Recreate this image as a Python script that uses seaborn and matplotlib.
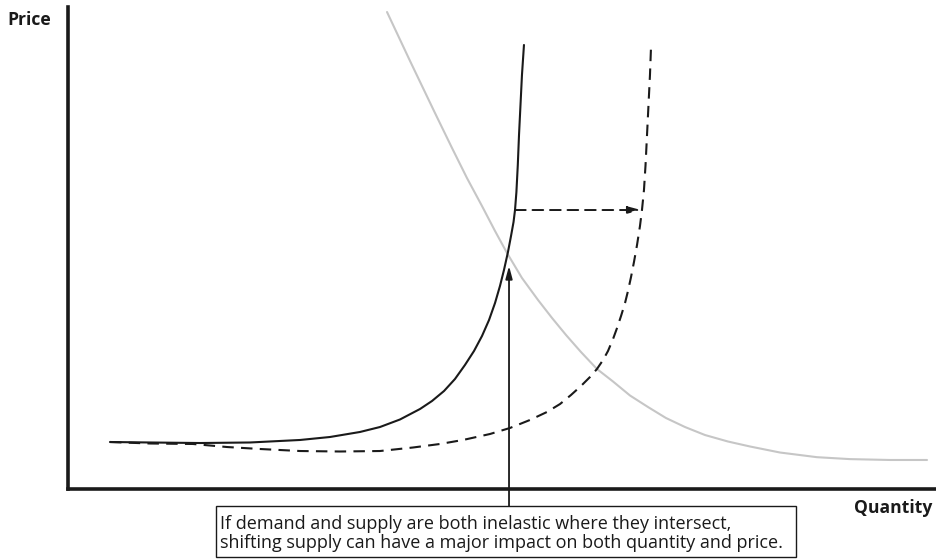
import matplotlib
matplotlib.use("Agg")
import matplotlib.pyplot as plt
from matplotlib.patches import Rectangle
import pandas as pd
import seaborn as sns

# Original supply curve (quantity, price)
supply_q = [4.83, 9.44, 15.19, 20.94, 26.70, 30.15, 33.60, 35.90, 38.20, 40.51,
            41.89, 43.27, 44.53, 45.68, 46.72, 47.64, 48.45, 49.14, 49.71, 50.17,
            50.63, 50.98, 51.27, 51.44, 51.60, 51.76, 51.90, 52.07, 52.24, 52.47]
supply_p = [9.75, 9.65, 9.54, 9.65, 10.17, 10.79, 11.83, 12.86, 14.42, 16.60,
            18.26, 20.33, 22.82, 25.73, 28.63, 31.74, 35.06, 38.59, 42.12, 45.44,
            49.17, 52.49, 55.39, 57.88, 61.60, 67.22, 73.44, 79.67, 85.89, 92.12]

# Shifted supply curve
shifted_q = [4.83, 9.44, 14.38, 18.30, 22.09, 26.70, 31.30, 35.90, 39.70, 42.81,
             45.45, 48.56, 50.86, 53.16, 55.12, 56.62, 57.88, 59.03, 60.07, 60.87,
             61.57, 62.14, 62.72, 63.18, 63.64, 64.10, 64.44, 64.79, 65.13, 65.48,
             65.82, 66.05, 66.28, 66.46, 66.63, 66.80, 66.97, 67.09]
shifted_p = [9.75, 9.44, 9.34, 8.71, 8.30, 7.88, 7.78, 7.88, 8.61, 9.34,
             10.17, 11.41, 12.66, 14.32, 15.98, 17.63, 19.50, 21.37, 23.24, 24.90,
             26.76, 28.63, 31.12, 33.40, 35.89, 38.59, 41.08, 43.98, 47.10, 50.62,
             54.56, 57.88, 62.03, 67.22, 73.44, 79.67, 85.89, 91.70]

# Demand curve
demand_q = [36.71, 39.36, 42.23, 44.19, 45.91, 47.64, 49.14, 50.52, 52.24, 54.09,
            55.70, 57.31, 59.03, 60.87, 62.72, 64.67, 66.74, 68.81, 71.00, 73.30,
            75.95, 78.48, 81.93, 86.19, 89.99, 94.59, 98.85]
demand_p = [98.96, 88.80, 78.01, 70.75, 64.52, 58.71, 53.53, 48.96, 43.78, 39.21,
            35.48, 31.95, 28.42, 24.90, 22.30, 19.40, 17.01, 14.73, 12.86, 11.20,
            9.85, 8.82, 7.57, 6.60, 6.20, 6.02, 6.02]

# Supply shift arrow and intersection pointer
shift_price = 57.88
shift_from_q, shift_to_q = 51.44, 65.95
pointer_q = 50.75
pointer_from_p, pointer_to_p = -3.5, 46.3

note_lines = [
    "If demand and supply are both inelastic where they intersect,",
    "shifting supply can have a major impact on both quantity and price.",
]
x_label = "Quantity"
y_label = "Price"

sns.set_style("white")
plt.rcParams["font.family"] = ["Open Sans", "DejaVu Sans"]

ink = "#1a1a1a"
dash = (0, (5.5, 3.5))

fig = plt.figure(figsize=(9.37, 5.59), dpi=100)
ax = fig.add_axes([68 / 937, 70 / 559, 869 / 937, 482 / 559])

supply = pd.DataFrame({"q": supply_q, "p": supply_p})
shifted = pd.DataFrame({"q": shifted_q, "p": shifted_p})
demand = pd.DataFrame({"q": demand_q, "p": demand_p})

sns.lineplot(data=demand, x="q", y="p", sort=False, estimator=None, ax=ax,
             color="#c6c6c6", linewidth=1.5)
sns.lineplot(data=shifted, x="q", y="p", sort=False, estimator=None, ax=ax,
             color=ink, linewidth=1.5, linestyle=dash)
sns.lineplot(data=supply, x="q", y="p", sort=False, estimator=None, ax=ax,
             color=ink, linewidth=1.5)

head = "-|>,head_length=0.75,head_width=0.2"
ax.annotate("", xy=(shift_to_q, shift_price), xytext=(shift_from_q, shift_price),
            arrowprops=dict(arrowstyle=head, color=ink, lw=1.4, linestyle=dash,
                            shrinkA=0, shrinkB=0))
ax.annotate("", xy=(pointer_q, pointer_to_p), xytext=(pointer_q, pointer_from_p),
            annotation_clip=False,
            arrowprops=dict(arrowstyle=head, color=ink, lw=1.3,
                            shrinkA=0, shrinkB=0))

ax.set_xlim(0, 100)
ax.set_ylim(0, 100)
ax.set_xticks([])
ax.set_yticks([])
ax.set_xlabel("")
ax.set_ylabel("")
for side in ("top", "right"):
    ax.spines[side].set_visible(False)
for side in ("left", "bottom"):
    ax.spines[side].set_linewidth(2.6)
    ax.spines[side].set_color(ink)

fig.text(7 / 937, 1 - 20 / 559, y_label, fontsize=12.6, fontweight="bold",
         ha="left", va="center", color=ink)
fig.text(932 / 937, 1 - 508 / 559, x_label, fontsize=12.6, fontweight="bold",
         ha="right", va="center", color=ink)

box = Rectangle((216 / 937, 1 - 557 / 559), 580 / 937, 51 / 559,
                transform=fig.transFigure, facecolor="white",
                edgecolor=ink, linewidth=1.0)
fig.patches.append(box)
for i, line in enumerate(note_lines):
    fig.text(220 / 937, 1 - (524 + 19 * i) / 559, line, fontsize=13.0,
             ha="left", va="center", color=ink)

fig.savefig("out.png", dpi=100)
